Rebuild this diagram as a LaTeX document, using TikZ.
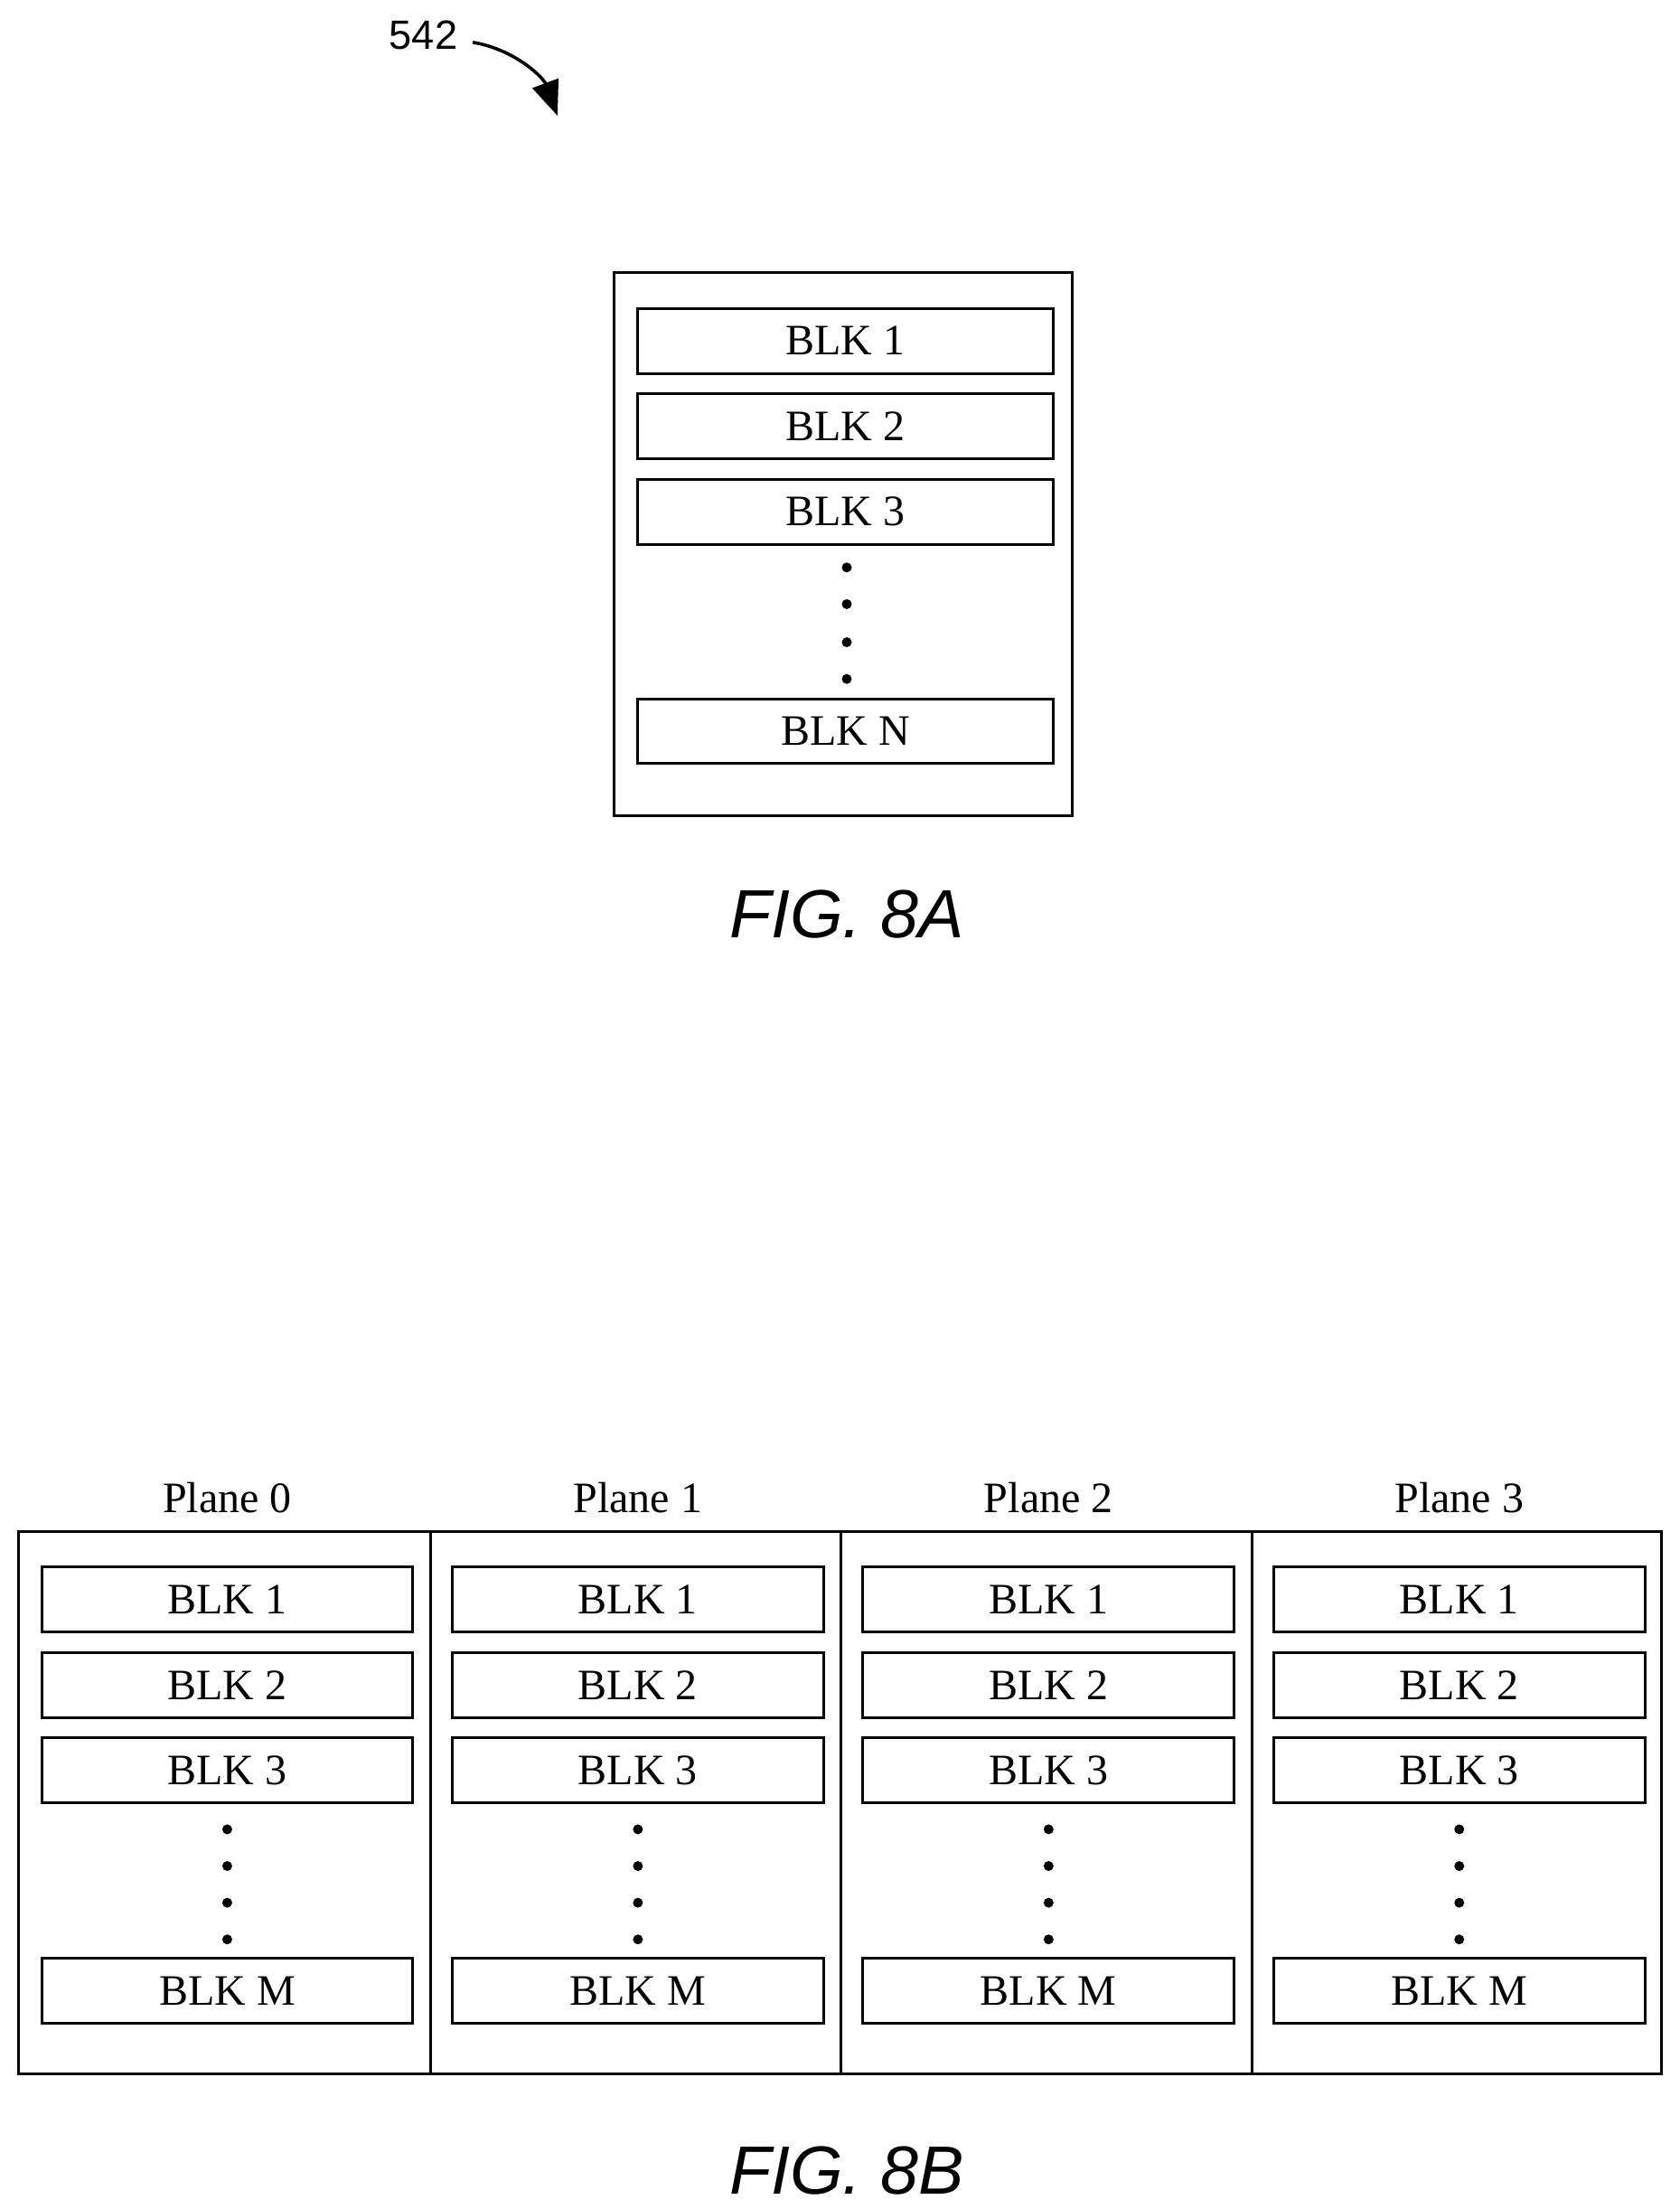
\documentclass[tikz,border=0pt]{standalone}
\usepackage{fontspec}
\setmainfont{Liberation Serif}
\newfontfamily\figsans{Liberation Sans}
\usetikzlibrary{arrows.meta}
\begin{document}
\begin{tikzpicture}[x=0.02cm,y=-0.02cm,
  box/.style={draw,line width=1.1pt},
  blk/.style={draw,line width=1.1pt,minimum width=294*0.02cm,minimum height=46*0.02cm,inner sep=0pt,font=\fontsize{17.5}{19}\selectfont},
  sblk/.style={blk,minimum width=263*0.02cm},
  dot/.style={circle,fill,inner sep=0pt,minimum size=4pt},
  lbl/.style={font=\fontsize{17.5}{19}\selectfont},
  fig/.style={font=\figsans\itshape\fontsize{27.5}{32}\selectfont}]
\useasboundingbox (0,0) rectangle (1190,1565);
\node[font=\figsans\fontsize{16.5}{18}\selectfont] (n542) at (300,25) {542};
\coordinate (a1) at (335,30);
\coordinate (a2) at (395,82);
\draw[line width=1.3pt,-{Triangle[length=14pt,width=11pt]}] (a1) .. controls (365,35) and (385,55) .. (a2);
% Fig 8A
\node[box,minimum width=325*0.02cm,minimum height=385*0.02cm,inner sep=0pt] (outerA) at (597.5,385.5) {};
\node[blk] (a_b1) at (599,241.5) {BLK 1};
\node[blk] (a_b2) at (599,302) {BLK 2};
\node[blk] (a_b3) at (599,362.5) {BLK 3};
\foreach \yy/\i in {402/1,428/2,455/3,481/4} \node[dot] (ad\i) at (600,\yy) {};
\node[blk] (a_bn) at (599,518) {BLK N};
\node[fig] (figA) at (600,648) {FIG. 8A};
% Fig 8B
\node[box,minimum width=1164*0.02cm,minimum height=384*0.02cm,inner sep=0pt] (outerB) at (595,1277) {};
\foreach \k in {0,1,2,3}{
  \pgfmathsetmacro{\cx}{161+291*\k}
  \node[lbl] (pl\k) at (\cx,1061) {Plane \k};
  \node[sblk] (b\k a) at (\cx,1133) {BLK 1};
  \node[sblk] (b\k b) at (\cx,1194) {BLK 2};
  \node[sblk] (b\k c) at (\cx,1254) {BLK 3};
  \foreach \yy/\i in {1296/1,1322/2,1348/3,1374/4} \node[dot] (d\k\i) at (\cx,\yy) {};
  \node[sblk] (b\k m) at (\cx,1410.5) {BLK M};
}
\foreach \xx/\i in {305/1,596/2,887/3}{
  \coordinate (t\i) at (\xx,1085); \coordinate (u\i) at (\xx,1469);
  \draw[line width=1.1pt] (t\i) -- (u\i);
}
\node[fig] (figB) at (600,1538) {FIG. 8B};
\end{tikzpicture}
\end{document}
